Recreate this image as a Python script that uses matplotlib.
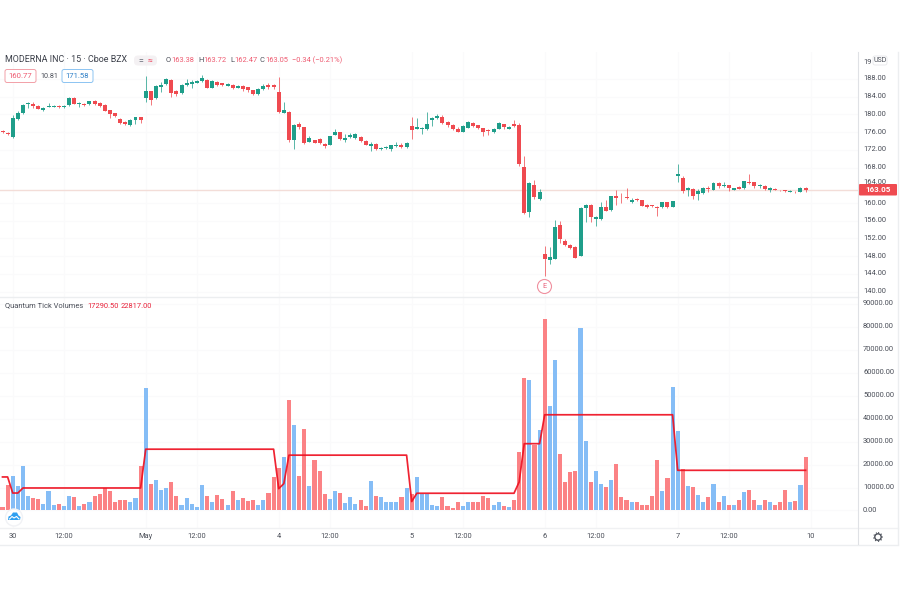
import matplotlib
matplotlib.use("Agg")
import matplotlib.pyplot as plt
from matplotlib.patches import Circle, FancyBboxPatch, Polygon

plt.rcParams['font.family'] = ['Roboto', 'DejaVu Sans']

opens = [176.27,175.89,174.99,178.98,180.33,182.29,182.29,181.91,180.93,181.68,
         181.76,181.99,181.68,182.06,183.72,182.29,182.36,182.29,183.04,182.59,
         182.21,180.93,180.26,178.98,178.37,177.62,178.75,179.35,183.79,185.22,
         183.64,186.28,186.80,187.86,185.30,184.84,186.73,186.88,187.18,187.48,
         187.78,186.05,187.33,187.03,186.50,186.73,186.05,186.50,186.12,185.45,
         184.62,185.67,186.73,186.65,185.15,180.41,180.63,174.24,177.91,177.09,
         173.85,174.15,174.38,173.40,173.17,175.43,175.96,174.23,174.83,174.68,
         174.83,174.08,172.80,173.40,172.20,172.35,172.12,172.87,173.02,172.57,
         177.39,176.78,176.78,176.63,178.82,179.12,179.34,178.21,177.54,176.71,
         176.11,177.01,178.06,177.54,176.86,176.48,175.96,176.78,177.76,176.78,
         177.91,177.61,168.06,157.97,164.07,160.83,148.42,147.22,147.44,155.04,
         151.40,150.53,150.08,148.12,158.96,159.56,156.40,156.40,159.11,158.36,
         161.60,161.22,161.44,160.31,160.99,160.61,159.56,159.48,159.18,159.03,
         160.16,159.18,166.11,165.58,163.02,163.17,162.04,162.34,163.32,163.02,
         164.60,163.85,163.99,163.02,163.62,163.32,164.75,164.68,163.77,163.85,
         162.87,163.17,162.95,162.87,162.57,162.57,162.57,163.38]
closes = [175.97,175.59,179.13,180.41,182.06,182.59,181.84,181.31,181.53,181.99,
          181.99,181.68,181.99,183.72,182.36,182.59,182.14,183.04,182.29,181.99,
          180.78,180.03,179.58,178.07,177.77,178.83,179.35,178.68,185.37,183.27,
          186.43,186.73,188.00,184.92,184.62,186.65,187.18,187.25,187.55,188.16,
          186.05,187.63,186.57,186.57,186.80,185.90,186.43,185.82,185.45,184.62,
          185.75,186.50,186.28,186.20,180.48,181.01,174.24,177.62,177.24,173.62,
          174.60,173.62,173.47,172.80,175.05,176.03,174.45,174.68,175.28,175.50,
          174.00,173.17,173.40,172.12,172.42,172.57,173.02,173.17,172.72,173.62,
          176.48,177.09,177.00,177.84,179.19,179.57,177.99,177.54,176.63,176.11,
          177.31,178.36,177.31,176.93,175.96,176.18,176.78,178.14,177.09,177.16,
          177.39,168.81,157.82,164.59,161.36,162.49,147.29,147.89,154.59,151.80,
          150.50,149.78,147.67,158.96,159.56,156.85,156.85,159.03,158.28,161.52,
          161.22,161.07,161.22,160.76,160.61,159.41,159.11,159.26,158.96,160.16,
          159.11,160.39,166.48,162.79,163.32,161.59,162.72,163.47,163.10,164.53,
          163.77,164.07,163.32,163.32,163.25,164.90,164.53,163.85,164.00,163.10,
          163.47,163.02,162.87,162.72,162.72,162.42,163.38,163.05]
highs = [176.49,176.04,179.88,180.86,182.44,182.74,182.74,182.06,181.68,182.59,
         182.06,182.14,182.14,183.94,184.02,182.74,182.51,183.12,183.19,182.74,
         182.36,181.08,180.41,179.13,178.53,178.98,179.50,179.50,188.68,185.37,
         186.65,187.25,188.30,188.00,185.52,186.88,187.93,187.78,187.78,188.91,
         187.93,187.78,187.48,187.18,187.10,186.88,186.58,186.65,186.27,185.60,
         185.90,186.88,187.03,186.88,188.38,182.89,180.78,177.77,178.36,177.24,
         175.20,174.30,174.75,173.55,175.20,176.71,176.11,175.58,175.73,175.88,
         175.13,174.23,173.70,173.55,172.72,172.87,173.17,173.70,173.62,173.85,
         179.34,179.12,177.24,180.47,179.49,180.02,179.87,178.59,177.76,177.09,
         177.69,178.59,178.21,177.69,177.01,176.71,176.94,178.29,177.91,177.39,
         178.74,177.99,170.62,164.82,165.20,163.17,150.38,150.15,156.17,156.02,
         151.80,150.76,150.31,159.11,159.72,159.72,157.16,160.31,160.69,161.67,
         162.95,162.19,163.32,161.07,161.15,160.77,159.79,159.64,159.34,160.32,
         160.32,160.54,168.81,166.03,163.55,163.33,163.10,163.63,163.78,164.83,
         164.76,164.68,164.15,163.48,163.78,165.06,166.48,164.83,164.23,164.00,
         163.63,163.33,163.03,163.03,162.87,162.72,163.70,163.72]
lows = [175.74,175.37,174.76,178.83,180.18,181.38,181.53,181.16,180.78,181.61,
        181.61,181.53,181.53,181.99,182.29,181.76,181.99,182.21,182.21,181.76,
        180.71,179.28,179.35,177.92,177.55,177.47,177.77,178.00,182.74,182.14,
        183.42,185.15,186.65,184.02,184.24,184.62,186.50,186.05,187.03,187.40,
        185.90,185.90,186.43,186.43,186.35,185.75,185.90,185.30,185.15,184.47,
        184.47,185.52,185.67,185.75,180.41,180.26,173.86,172.20,176.71,173.25,
        173.70,173.47,173.32,172.42,173.02,175.28,174.30,173.70,174.68,174.53,
        173.85,173.02,171.82,171.97,172.05,172.20,171.67,172.72,172.50,172.42,
        174.45,176.63,175.50,176.48,177.39,178.89,177.84,177.24,176.48,175.96,
        175.96,176.86,177.09,176.78,175.13,175.35,175.81,176.63,176.71,176.63,
        177.16,168.36,157.45,156.92,160.83,160.68,143.53,146.24,147.29,150.90,
        150.20,149.63,147.52,148.05,155.80,155.80,154.90,156.25,158.13,158.21,
        159.56,159.94,160.92,160.09,160.47,159.26,158.96,159.11,157.15,158.89,
        158.96,159.04,164.83,162.34,161.67,160.91,160.76,162.05,162.50,162.87,
        163.48,163.63,162.72,162.87,163.10,163.18,164.38,163.48,163.48,162.87,
        162.42,162.87,162.72,162.57,162.42,162.35,162.42,162.47]
volumes = [1500,11100,15200,10500,19400,6100,5300,5000,2900,8300,
           2300,2900,1900,6100,5700,1900,2900,3900,6100,7200,
           9800,8600,3900,4700,4700,3500,5300,19400,53200,11500,
           13200,8800,9900,12400,6100,2500,5300,2900,1300,11100,
           6100,3800,6600,4800,2600,8600,4400,5600,4100,4700,
           2600,4400,7600,14500,18700,23100,48000,37300,15000,35700,
           10800,22200,17300,7000,4800,8500,7500,3100,5700,2800,
           4400,1900,12900,6100,6000,3500,3500,3600,6000,9800,
           7000,14600,7300,7300,2600,1900,5700,1900,1000,3800,
           1800,3500,3900,3900,6100,5300,2500,3800,1900,1600,
           4700,25300,57900,57000,28500,35100,83300,45600,65400,24400,
           12600,16700,17400,79400,30100,12300,17400,11500,10400,13200,
           20200,6000,4700,3500,3900,2600,2500,6400,21900,8600,
           14300,53800,34600,18100,10800,10200,6700,3900,6000,11400,
           3800,6100,2600,2600,4400,8000,9100,4400,2200,4400,
           3700,2300,3700,8800,3500,4200,11000,23100]
avg_line = [14600,14600,7600,7600] + [9800]*24 + [26700]*26 + [9500,11700] + [24100]*24 + \
           [3900] + [7500]*20 + [12400] + [29100]*4 + [41700]*26 + [17500]*26

time_ticks = [2, 12, 28, 38, 54, 64, 80, 90, 106, 116, 132, 142, 158]
time_labels = ['30', '12:00', 'May', '12:00', '4', '12:00', '5', '12:00', '6', '12:00', '7', '12:00', '10']
price_ticks = [188, 184, 180, 176, 172, 168, 160, 156, 152, 148, 144, 140]
volume_ticks = [90000, 80000, 70000, 60000, 50000, 40000, 30000, 20000, 10000, 0]
last_price = 163.05

RED, GREEN = '#ef4a50', '#1f9e8a'
VRED, VBLUE = '#fb8285', '#85bdf6'
LINE = '#dfe1e5'
TXT = '#4a4e58'
PRED = '#ee5a70'

W, H = 900, 600
fig = plt.figure(figsize=(9, 6), dpi=100, facecolor='white')

def panel(top, bottom):
    return fig.add_axes([0, 1 - bottom / H, 858 / W, (bottom - top) / H])

ax1 = panel(52, 296)
ax2 = panel(296, 527.5)
xlim = (-0.49, 167.25)
for ax in (ax1, ax2):
    ax.set_xlim(*xlim)
    ax.set_facecolor('white')
    ax.tick_params(left=False, bottom=False, labelleft=False, labelbottom=False)
    for s in ax.spines.values():
        s.set_visible(False)
    ax.set_xticks(time_ticks)
    ax.grid(True, color='#fafafb', lw=0.8)
    ax.set_axisbelow(True)
ax1.set_ylim(139.02, 194.09)
ax1.set_yticks(price_ticks)
ax2.set_ylim(-7420, 93450)
ax2.set_yticks(volume_ticks)

# candles
ax1.axhline(last_price, color='#f3ddd8', lw=1, zorder=1)
idx = list(range(len(opens)))
colors = [GREEN if c >= o else RED for o, c in zip(opens, closes)]
ax1.vlines(idx, lows, highs, colors=colors, lw=0.7, alpha=0.75, zorder=2)
ax1.bar(idx, [max(abs(c - o), 0.12) for o, c in zip(opens, closes)],
        bottom=[min(o, c) for o, c in zip(opens, closes)],
        width=0.78, color=colors, linewidth=0, zorder=3)

# logo sits behind the volume bars
ax2.set_zorder(2)
ax2.patch.set_alpha(1)

# volume
vcolors = [VBLUE if c >= o else VRED for o, c in zip(opens, closes)]
ax2.bar(idx, volumes, width=0.8, color=vcolors, linewidth=0, zorder=2)
ax2.plot(idx, avg_line, color='#ee1020', lw=1.25, alpha=0.92, zorder=3, solid_joinstyle='round')

# overlay in pixel coordinates
ov = fig.add_axes([0, 0, 1, 1], facecolor='none')
ov.set_zorder(5)
ov.set_xlim(0, W)
ov.set_ylim(H, 0)
ov.axis('off')
ov.plot([0, 858], [296.5, 296.5], color='#eceef0', lw=1)
ov.plot([0, 898], [527.5, 527.5], color='#f0f1f3', lw=1)
ov.plot([0, 898], [544.5, 544.5], color='#eceef0', lw=1)
ov.plot([858, 858], [52, 544], color=LINE, lw=0.8)
ov.plot([898, 898], [52, 544], color='#eceef0', lw=1)

# price axis labels
py = lambda p: 79 + (188 - p) * 4.43
for p in price_ticks:
    ov.text(863, py(p), f'{p:.2f}', fontsize=5.4, color=TXT, va='center', ha='left')
ov.text(863, 62, '19', fontsize=5.4, color=TXT, va='center', ha='left')
ov.add_patch(FancyBboxPatch((873, 56), 14, 9, boxstyle='round,pad=0,rounding_size=2',
                            fc='white', ec='#e6e7ea', lw=0.6))
ov.text(880, 60.5, 'USD', fontsize=5, color=TXT, va='center', ha='center')
ov.text(863, 182.5, '164.00', fontsize=5.4, color=TXT, va='center', ha='left')
ov.add_patch(FancyBboxPatch((859, 184), 38, 11.5, boxstyle='round,pad=0,rounding_size=1',
                            fc=RED, ec='none'))
ov.text(878, 190, f'{last_price:.2f}', fontsize=5.8, color='white', va='center', ha='center',
        fontweight='bold')

# volume axis labels
vy = lambda v: 510 - v * 22.9 / 10000
for v in volume_ticks:
    ov.text(863, vy(v), f'{v:.2f}', fontsize=5.4, color=TXT, va='center', ha='left')

# time axis labels
tx = lambda i: 2.5 + 5.115 * i
for i, lab in zip(time_ticks, time_labels):
    ov.text(tx(i), 536, lab, fontsize=5.4, color=TXT, va='center', ha='center')

# header
ov.text(5, 60, 'MODERNA INC · 15 · Cboe BZX', fontsize=6.4, color='#3b3f49', va='center', ha='left')
ov.add_patch(FancyBboxPatch((134, 55.5), 23, 10, boxstyle='round,pad=0,rounding_size=4',
                            fc='#f4f1f3', ec='none'))
ov.text(140.5, 60.3, '=', fontsize=6, color='#777b85', va='center', ha='center', fontweight='bold')
ov.text(150, 60.3, '≈', fontsize=6, color=PRED, va='center', ha='center', fontweight='bold')
for x, s, c in [(166, 'O', TXT), (171.5, '163.38', PRED), (198, 'H', TXT), (203.5, '163.72', PRED),
                (230, 'L', TXT), (234, '162.47', PRED), (260, 'C', TXT), (265, '163.05', PRED),
                (292, '−0.34 (−0.21%)', PRED)]:
    ov.text(x, 60.5, s, fontsize=5.4, color=c, va='center', ha='left')
ov.add_patch(FancyBboxPatch((5, 69.5), 31, 13, boxstyle='round,pad=0,rounding_size=2',
                            fc='white', ec='#f2a0a8', lw=0.7))
ov.text(20.5, 76, '160.77', fontsize=5.6, color=PRED, va='center', ha='center')
ov.text(49, 76, '10.81', fontsize=5.2, color=TXT, va='center', ha='center')
ov.add_patch(FancyBboxPatch((62, 69.5), 31, 13, boxstyle='round,pad=0,rounding_size=2',
                            fc='white', ec='#8cc4f2', lw=0.7))
ov.text(77.5, 76, '171.58', fontsize=5.6, color='#2f80c8', va='center', ha='center')

# indicator legend
ov.text(5, 306, 'Quantum Tick Volumes', fontsize=5.4, color=TXT, va='center', ha='left')
ov.text(87, 306, '17290.50', fontsize=5.4, color='#e8223a', va='center', ha='left')
ov.text(121, 306, '22817.00', fontsize=5.4, color='#e8223a', va='center', ha='left')

# earnings marker
ov.add_patch(Circle((544.5, 286.5), 7, fc='white', ec='#f0909f', lw=0.8))
ov.text(544.5, 286.7, 'E', fontsize=5.2, color='#e8607a', va='center', ha='center')

# logo
ov.add_patch(Circle((14, 517.5), 8.5, fc='white', ec='#f1f2f5', lw=1))
ov.add_patch(Polygon([(8, 520), (8.5, 516.5), (11, 515.5), (13, 512.5), (17, 512.5), (18.5, 515.5), (20.5, 517), (20, 520)],
                     closed=True, fc='#2f9ff0', ec='none'))
ov.plot([9.5, 12, 14, 16.5, 19], [519, 516.5, 518, 516.5, 519], color='white', lw=0.8)

# settings gear
ov.add_patch(Circle((878, 537), 3.2, fc='none', ec='#4a4e58', lw=1.0))
ov.add_patch(Circle((878, 537), 4.3, fc='none', ec='#4a4e58', lw=0.8, ls=(0, (1, 1.8))))

fig.savefig('out.png', dpi=100, facecolor='white')
